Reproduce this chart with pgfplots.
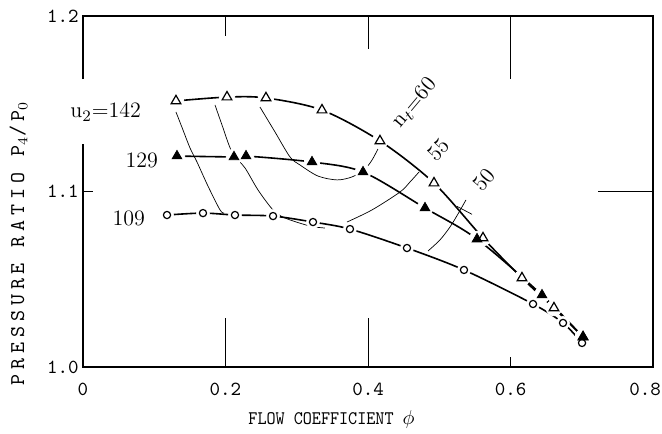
\documentclass[border=0pt]{standalone}
\usepackage{fontspec}
\newfontfamily\ylabfont[LetterSpace=23]{Latin Modern Mono}
\newfontfamily\xlabfont[FakeStretch=0.9]{Latin Modern Mono}
\usepackage{pgfplots}
\pgfplotsset{compat=1.18}
\usetikzlibrary{calc}

\pgfplotstableread{
x y
0.1305 1.1516
0.2021 1.1538
0.2568 1.1533
0.3354 1.1464
0.4168 1.1288
0.4926 1.1048
0.5614 1.0735
0.6161 1.0507
0.6610 1.0336
0.7018 1.0171
}\uA

\pgfplotstableread{
x y
0.1319 1.1202
0.2119 1.1197
0.2288 1.1202
0.3214 1.1168
0.3930 1.1111
0.4800 1.0906
0.5530 1.0729
0.6442 1.0410
0.7018 1.0171
}\uB

\pgfplotstableread{
x y
0.1179 1.0866
0.1684 1.0877
0.2133 1.0866
0.2667 1.0860
0.3228 1.0826
0.3747 1.0786
0.4547 1.0678
0.5347 1.0553
0.6316 1.0359
0.6737 1.0251
0.7004 1.0137
}\uC

\begin{document}
\begin{tikzpicture}
\begin{axis}[
  name=ax,
  width=285pt, height=175.5pt, scale only axis,
  xmin=0, xmax=0.8, ymin=1.0, ymax=1.2,
  xtick={0,0.2,0.4,0.6,0.8},
  xticklabels={0,0.2,0.4,0.6,{\hspace*{-8pt}0.8}},
  ytick={1.0,1.1,1.2},
  yticklabels={1.0,1.1,1.2},
  major tick length=0pt,
  ticklabel style={font=\ttfamily\fontsize{10}{12}\selectfont},
  xticklabel style={anchor=center, yshift=-11pt},
  yticklabel style={xshift=1.3pt},
  axis line style={draw=none},
  clip=false,
  xlabel={FLOW COEFFICIENT $\phi$},
  xlabel style={font=\xlabfont\fontsize{9.6}{11}\selectfont, at={(axis description cs:0.436,-0.1624)}, anchor=base},
  ylabel={PRESSURE RATIO P$_4$/P$_0$},
  ylabel style={font=\ylabfont\fontsize{10.5}{12}\selectfont, at={(axis description cs:-0.1132,0.353)}, anchor=center},
]
% axis frame with gap on the left
\draw[line width=0.9pt] (axis cs:0,1.164) -- (axis cs:0,1.2) -- (axis cs:0.8,1.2) -- (axis cs:0.8,1.0) -- (axis cs:0,1.0) -- (axis cs:0,1.127);
% tick lines
\draw[line width=0.5pt] (axis cs:0.2,1.0) -- (axis cs:0.2,1.028);
\draw[line width=0.5pt] (axis cs:0.2,1.2) -- (axis cs:0.2,1.1886);
\draw[line width=0.5pt] (axis cs:0.4,1.0) -- (axis cs:0.4,1.028);
\draw[line width=0.5pt] (axis cs:0.4,1.2) -- (axis cs:0.4,1.1812);
\draw[line width=0.5pt] (axis cs:0.6,1.0) -- (axis cs:0.6,1.0057);
\draw[line width=0.5pt] (axis cs:0.6,1.2) -- (axis cs:0.6,1.164);
\draw[line width=0.5pt] (axis cs:0,1.1) -- (axis cs:0.014,1.1);
\draw[line width=0.5pt] (axis cs:0.7228,1.1) -- (axis cs:0.8,1.1);

% main curves
\addplot[black, line width=0.8pt, smooth] table {\uA};
\addplot[black, line width=0.8pt, smooth] table {\uB};
\addplot[black, line width=0.8pt, smooth] table {\uC};

% thin curves
\addplot[black, line width=0.35pt, smooth] coordinates {(0.1305,1.1453) (0.1404,1.1350) (0.1502,1.1248) (0.1600,1.1168) (0.1754,1.1031) (0.1923,1.0895) (0.1979,1.0877)};
\addplot[black, line width=0.35pt, smooth] coordinates {(0.1853,1.1493) (0.1951,1.1379) (0.2091,1.1225) (0.2274,1.1134) (0.2456,1.1009) (0.2667,1.0895) (0.2835,1.0849) (0.3186,1.0803) (0.3396,1.0792)};
\addplot[black, line width=0.35pt, smooth] coordinates {(0.2484,1.1481) (0.2695,1.1339) (0.2905,1.1197) (0.3046,1.1151) (0.3298,1.1088) (0.3565,1.1066) (0.3775,1.1083) (0.3944,1.1123) (0.4056,1.1179) (0.4168,1.1265)};
\addplot[black, line width=0.35pt, smooth] coordinates {(0.3705,1.0826) (0.4056,1.0895) (0.4449,1.0997) (0.4589,1.1054) (0.4716,1.1111)};
\addplot[black, line width=0.35pt, smooth] coordinates {(0.4842,1.0661) (0.5010,1.0724) (0.5151,1.0798) (0.5263,1.0872) (0.5375,1.0952)};
\draw[line width=0.35pt] (axis cs:0.5250,1.0915) -- (axis cs:0.5460,1.0870);

% halos
\addplot[only marks, mark=*, mark size=3.9pt, mark options={draw=white, fill=white}] table {\uA};
\addplot[only marks, mark=*, mark size=3.9pt, mark options={draw=white, fill=white}] table {\uB};
\addplot[only marks, mark=*, mark size=3.2pt, mark options={draw=white, fill=white}] table {\uC};

% markers
\addplot[only marks, mark=triangle, mark size=2.8pt, mark options={draw=black, fill=white, line width=0.6pt}] table {\uA};
\addplot[only marks, mark=triangle*, mark size=2.8pt, mark options={draw=black, fill=black, line width=0.4pt}] table {\uB};
\addplot[only marks, mark=o, mark size=1.8pt, mark options={draw=black, fill=white, line width=0.6pt}] table {\uC};

% labels
\node[anchor=base east, font=\fontsize{11}{13}\selectfont] at (axis cs:0.0912,1.1419) {u$_2$=142};
\node[anchor=base east, font=\fontsize{11}{13}\selectfont] at (axis cs:0.1151,1.1134) {129};
\node[anchor=base east, font=\fontsize{11}{13}\selectfont] at (axis cs:0.0968,1.0809) {109};
\node[rotate=50, inner sep=0pt, font=\fontsize{11}{13}\selectfont] at (axis cs:0.4660,1.1504) {n$_t$=60};
\node[rotate=47, inner sep=0pt, font=\fontsize{11}{13}\selectfont] at (axis cs:0.4990,1.1236) {55};
\node[rotate=50, inner sep=0pt, font=\fontsize{11}{13}\selectfont] at (axis cs:0.5635,1.1066) {50};
\end{axis}
\pgfresetboundingbox
\path[use as bounding box] ($(ax.south west)+(-41.5pt,-33pt)$) rectangle ($(ax.north east)+(4.5pt,8pt)$);
\end{tikzpicture}
\end{document}
